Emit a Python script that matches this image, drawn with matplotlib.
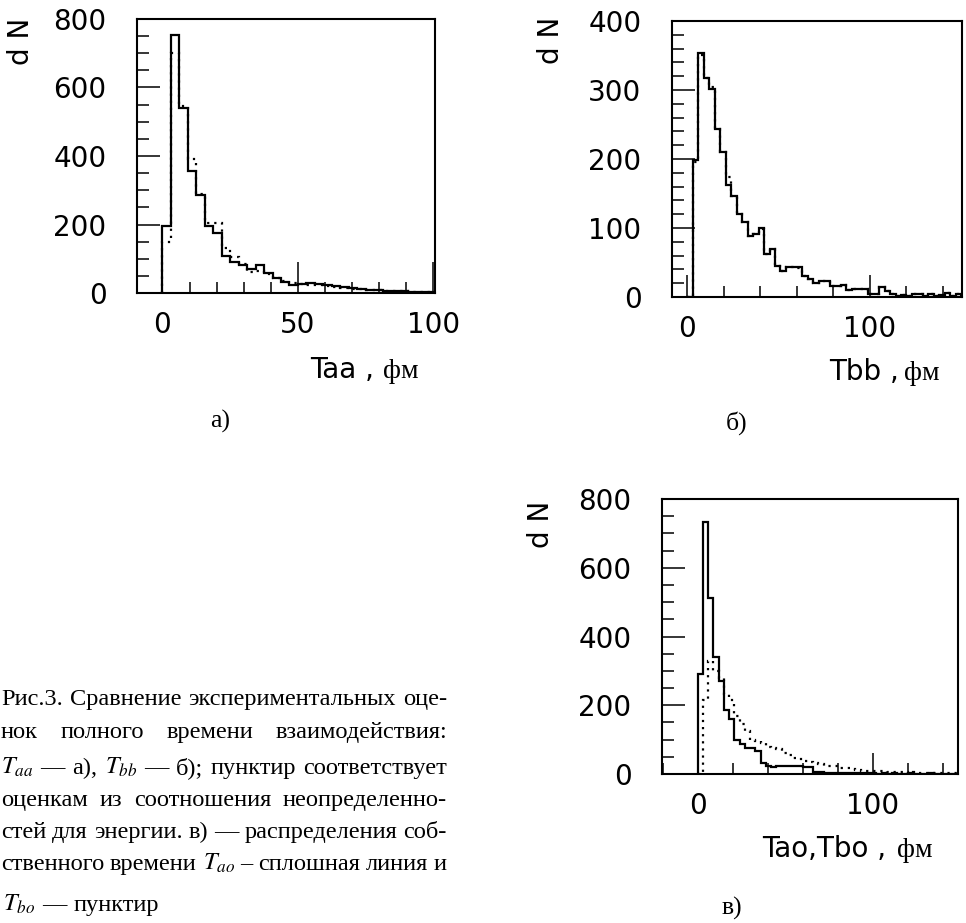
import numpy as np
import matplotlib
matplotlib.use("Agg")
import matplotlib.pyplot as plt
from matplotlib.ticker import MultipleLocator

# values (counts per bin)
bin_a = 3.125
taa_solid = [196, 753, 541, 357, 287, 196, 174, 108, 91, 83, 70, 81, 57, 45, 33, 24,
             27, 29, 27, 24, 19, 18, 16, 12, 10, 9, 7, 5, 5, 3, 3, 2]
taa_dots = [150, 700, 545, 390, 290, 205, 205, 130, 105, 85, 60, 65, 55, 45, 35, 30,
            25, 22, 22, 20, 17, 15, 13, 11, 10, 8, 7, 6, 5, 4, 3, 3]

bin_bc = 3.0
tbb_solid = [0, 198, 353, 318, 301, 244, 210, 163, 147, 121, 108, 89, 91, 100, 62, 69,
             45, 38, 43, 43, 43, 31, 26, 21, 23, 23, 16, 16, 17, 10, 11, 11, 11, 5, 5,
             15, 8, 4, 1, 3, 2, 4, 5, 1, 5, 2, 3, 6, 2, 4]
tbb_dots = [0, 195, 350, 318, 305, 244, 210, 174, 147, 121, 108, 89, 91, 98, 62, 69,
            45, 38, 43, 43, 42, 31, 26, 21, 23, 23, 16, 16, 17, 10, 11, 11, 11, 5, 5,
            14, 8, 4, 1, 3, 2, 4, 5, 1, 5, 2, 3, 6, 2, 4]

tao_solid = [292, 734, 512, 340, 270, 185, 160, 99, 87, 77, 77, 68, 31, 24, 19, 24,
             24, 24, 24, 24, 19, 19, 5, 5, 4, 3, 4, 3, 2, 3, 2, 3, 2, 2, 1, 2, 1, 2,
             1, 1, 2, 1, 1, 1, 2, 1, 1, 1, 1, 1]
tbo_dots = [0, 215, 328, 300, 280, 232, 215, 170, 145, 125, 100, 97, 90, 80, 77, 72,
            62, 55, 48, 45, 38, 34, 32, 28, 24, 24, 22, 18, 17, 15, 12, 10, 10, 9, 9,
            8, 7, 6, 5, 5, 4, 5, 4, 3, 4, 3, 2, 3, 2, 2]

caption = [
    "Рис.3. Сравнение экспериментальных оце-",
    "нок полного времени взаимодействия:",
    "$T_{aa}$ — а), $T_{bb}$ — б); пунктир соответствует",
    "оценкам из соотношения неопределенно-",
    "стей для энергии. в) — распределения соб-",
    "ственного времени $T_{ao}$ – сплошная линия и",
    "$T_{bo}$ — пунктир",
]

plt.rcParams["font.family"] = "DejaVu Sans"
plt.rcParams["mathtext.fontset"] = "stix"

W, H = 966, 923
fig = plt.figure(figsize=(W / 100, H / 100), dpi=100)


def fx(px):
    return px / W


def fy(py):
    return 1 - py / H


def panel(box, xlim, ylim, xmaj, xmin, ymaj, ymin, xlen):
    l, t, r, b = box
    ax = fig.add_axes([fx(l), fy(b), (r - l) / W, (b - t) / H])
    ax.set_xlim(*xlim)
    ax.set_ylim(*ylim)
    ax.xaxis.set_major_locator(MultipleLocator(xmaj))
    ax.xaxis.set_minor_locator(MultipleLocator(xmin))
    ax.yaxis.set_major_locator(MultipleLocator(ymaj))
    ax.yaxis.set_minor_locator(MultipleLocator(ymin))
    for s in ax.spines.values():
        s.set_linewidth(1.5)
    ax.tick_params(which="both", direction="in", width=1.1, labelsize=20)
    ax.tick_params(axis="y", which="major", length=16.5, pad=22)
    ax.tick_params(axis="y", which="minor", length=8.5)
    ax.tick_params(axis="x", which="major", length=xlen, pad=13)
    ax.tick_params(axis="x", which="minor", length=8)
    return ax


def hist(ax, solid, dots, width):
    edges = np.arange(len(solid) + 1) * width
    ax.stairs(dots, edges, color="black", lw=1.6, linestyle=(0, (1, 2.2)))
    ax.stairs(solid, edges, color="black", lw=1.6)


def xtitle(x_end, x_fm, y_base, txt):
    fig.text(fx(x_end), fy(y_base), txt, ha="right", va="baseline", fontsize=20)
    fig.text(fx(x_fm), fy(y_base), "фм", ha="left", va="baseline", fontsize=20,
             family="Liberation Serif")


def dn(x, y):
    fig.text(fx(x), fy(y), "d N", rotation=90, ha="center", va="center", fontsize=20)


ax_a = panel((137, 19, 435, 293), (-9.4, 100.6), (0, 800), 50, 10, 200, 50, 22)
hist(ax_a, taa_solid, taa_dots, bin_a)
ax_b = panel((672, 21, 962, 297), (-8.4, 150.4), (0, 400), 100, 20, 100, 20, 16)
hist(ax_b, tbb_solid, tbb_dots, bin_bc)
ax_c = panel((662, 499, 958, 774), (-20.4, 148.7), (0, 800), 100, 20, 200, 50, 15)
hist(ax_c, tao_solid, tbo_dots, bin_bc)

dn(21, 41)
dn(551, 40)
dn(541, 524)
xtitle(374, 383, 378, "Taa ,")
xtitle(899, 904, 380, "Tbb ,")
xtitle(886, 897, 857, "Tao,Tbo ,")

serif = dict(family="Liberation Serif", fontsize=18.5, ha="center", va="center")
fig.text(fx(220), fy(421), "а)", **serif)
fig.text(fx(737), fy(423), "б)", **serif)
fig.text(fx(732), fy(908), "в)", **serif)

# justified caption block on the lower left
renderer = fig.canvas.get_renderer()
baselines = [705, 738, 774, 806, 838, 870, 911]
x0, x1 = 1, 447
for i, (line, yb) in enumerate(zip(caption, baselines)):
    words = line.split(" ")
    texts = [fig.text(0, fy(yb), w, family="Liberation Serif", fontsize=17.6,
                      va="baseline", ha="left") for w in words]
    widths = [t.get_window_extent(renderer).width for t in texts]
    if i == len(caption) - 1:
        gap = 7
        x = 3
    else:
        gap = (x1 - x0 - sum(widths)) / (len(words) - 1)
        x = x0
    for t, w in zip(texts, widths):
        t.set_x(fx(x))
        x += w + gap

fig.savefig("out.png", dpi=100)
